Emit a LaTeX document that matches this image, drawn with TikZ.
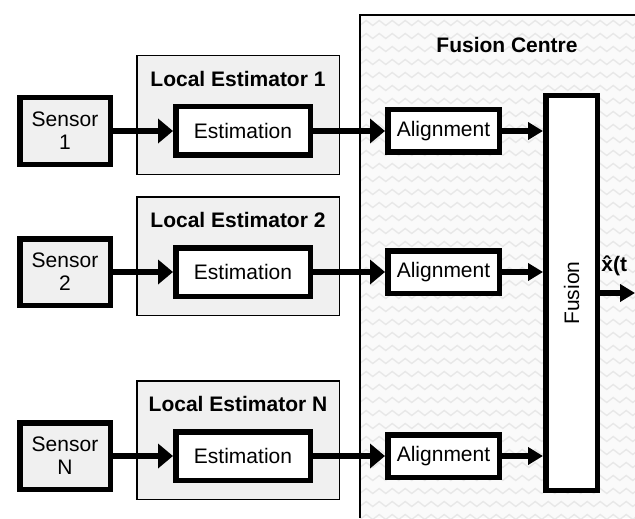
\documentclass[tikz,border=0pt]{standalone}
\usepackage{graphicx}
\usepackage{fontspec}
\setmainfont{Liberation Sans}
\usetikzlibrary{arrows.meta,decorations.pathmorphing}
\tikzset{
    sensorbox/.style={draw, line width=2.75pt, fill=black!6, minimum width=45.25pt,
        minimum height=33.25pt, align=center, inner sep=0pt,
        font=\fontsize{10.5}{11.5}\selectfont},
    estbox/.style={draw, line width=2.75pt, fill=white, minimum width=67.25pt,
        minimum height=24.25pt, inner sep=0pt, font=\fontsize{10.5}{12}\selectfont},
    alignbox/.style={draw, line width=2.75pt, fill=white, minimum width=55.75pt,
        minimum height=21.25pt, inner sep=0pt, font=\fontsize{10.5}{12}\selectfont},
    fusebox/.style={draw, line width=2.75pt, fill=white, minimum width=25.75pt,
        minimum height=197.25pt, inner sep=0pt, font=\fontsize{10.5}{12}\selectfont},
    localbox/.style={draw, line width=0.75pt, fill=black!6, minimum width=101.25pt,
        minimum height=59.25pt, inner sep=0pt},
    titletext/.style={font=\fontsize{10.5}{12}\selectfont\bfseries, inner sep=1pt},
    flow/.style={line width=3pt, -{Triangle[length=7.5pt,width=12pt]}},
    flowsmall/.style={line width=3pt, -{Triangle[length=7.5pt,width=8.5pt]}},
    wave/.style={draw=black!9, line width=0.7pt, decorate,
        decoration={zigzag, segment length=6.5pt, amplitude=1.25pt}}
}
\begin{document}
\begin{tikzpicture}[x=0.5pt, y=-0.5pt]
\useasboundingbox (0,0) rectangle (635,518);
% fusion centre background
\fill[black!2] (360,15) rectangle (635,518);
\begin{scope}
\clip (360,15) rectangle (635,518);
\foreach \r in {0,...,38}
    \draw[wave] (350,23+13*\r) -- (645,23+13*\r);
\end{scope}
\draw[line width=0.9pt] (360,518) -- (360,15) -- (635,15);
\node[titletext] (fctitle) at (507,45) {Fusion Centre};
\node[fusebox] (fusion) at (571.5,293) {\rotatebox{90}{Fusion}};
% one chain per sensor
\foreach \i/\y in {1/131,2/272,N/456} {
    \node[localbox] (local\i) at (238,\y-16) {};
    \node[titletext] (title\i) at (238,\y-52) {Local Estimator \i};
    \node[sensorbox] (sensor\i) at (65,\y) {Sensor\\\i};
    \node[estbox] (est\i) at (243,\y) {Estimation};
    \node[alignbox] (align\i) at (443.5,\y) {Alignment};
    \draw[flow] (sensor\i) -- (est\i);
    \draw[flow] (est\i) -- (align\i);
    \draw[flowsmall] (align\i.east) -- (align\i.east -| fusion.west);
}
% output
\coordinate (xout) at (635,293);
\draw[flowsmall] (fusion.east |- xout) -- (xout);
\node[titletext, anchor=west] (xhat) at (599,266) {\^{x}(t};
\end{tikzpicture}
\end{document}
